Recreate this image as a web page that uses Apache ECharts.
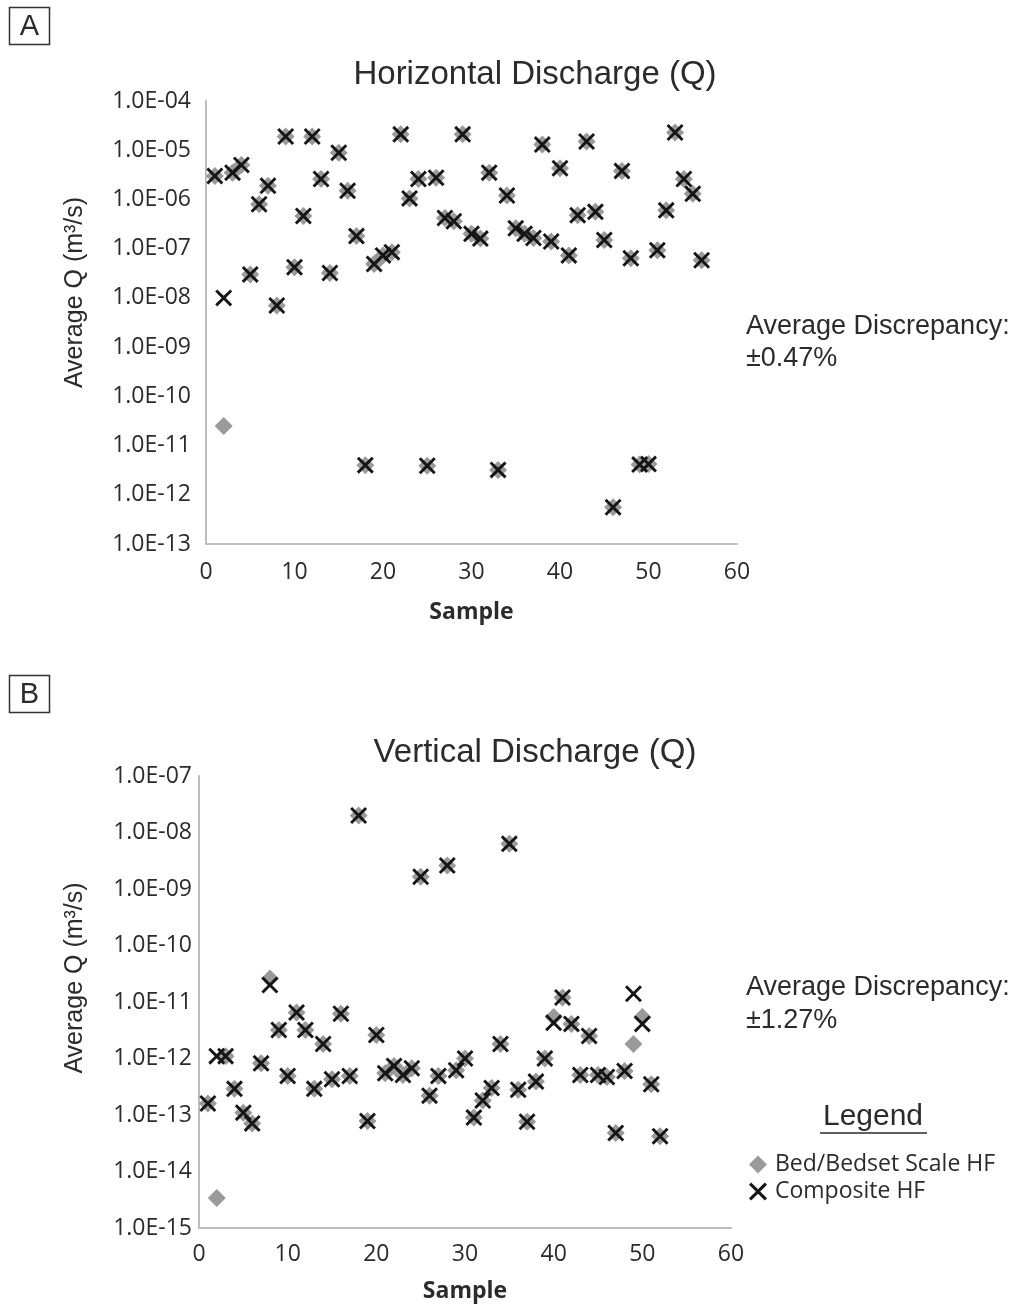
<!DOCTYPE html>
<html>
<head>
<meta charset="utf-8">
<title>Horizontal and Vertical Discharge</title>
<script src="https://cdn.jsdelivr.net/npm/echarts@6/dist/echarts.min.js"></script>
<style>
  html, body { margin: 0; padding: 0; background: #fff; }
  #chart { width: 1016px; height: 1308px; }
</style>
</head>
<body>
<div id="chart"></div>
<script>
// A: horizontal discharge, samples 1-56
const samplesA = [1, 2, 3, 4, 5, 6, 7, 8, 9, 10, 11, 12, 13, 14, 15, 16, 17, 18, 19, 20,
  21, 22, 23, 24, 25, 26, 27, 28, 29, 30, 31, 32, 33, 34, 35, 36, 37, 38, 39, 40,
  41, 42, 43, 44, 45, 46, 47, 48, 49, 50, 51, 52, 53, 54, 55, 56]
const bedA = [3.0e-6, 2.5e-11, 3.5e-6, 5.0e-6, 3.0e-8, 8.0e-7, 1.9e-6, 7.0e-9, 1.9e-5, 4.2e-8,
  4.6e-7, 1.9e-5, 2.6e-6, 3.2e-8, 8.9e-6, 1.5e-6, 1.8e-7, 4.0e-12, 4.9e-8, 7.3e-8,
  8.5e-8, 2.1e-5, 1.05e-6, 2.6e-6, 3.9e-12, 2.75e-6, 4.2e-7, 3.6e-7, 2.1e-5, 2.0e-7,
  1.6e-7, 3.5e-6, 3.2e-12, 1.2e-6, 2.6e-7, 2.0e-7, 1.65e-7, 1.3e-5, 1.4e-7, 4.3e-6,
  7.3e-8, 4.8e-7, 1.5e-5, 5.6e-7, 1.5e-7, 5.6e-13, 3.8e-6, 6.4e-8, 4.1e-12, 4.2e-12,
  9.3e-8, 6.0e-7, 2.3e-5, 2.6e-6, 1.3e-6, 5.8e-8]
const compositeA = [3.0e-6, 1.0e-8, 3.5e-6, 5.0e-6, 3.0e-8, 8.0e-7, 1.9e-6, 7.0e-9, 1.9e-5, 4.2e-8,
  4.6e-7, 1.9e-5, 2.6e-6, 3.2e-8, 8.9e-6, 1.5e-6, 1.8e-7, 4.0e-12, 4.9e-8, 7.3e-8,
  8.5e-8, 2.1e-5, 1.05e-6, 2.6e-6, 3.9e-12, 2.75e-6, 4.2e-7, 3.6e-7, 2.1e-5, 2.0e-7,
  1.6e-7, 3.5e-6, 3.2e-12, 1.2e-6, 2.6e-7, 2.0e-7, 1.65e-7, 1.3e-5, 1.4e-7, 4.3e-6,
  7.3e-8, 4.8e-7, 1.5e-5, 5.6e-7, 1.5e-7, 5.6e-13, 3.8e-6, 6.4e-8, 4.1e-12, 4.2e-12,
  9.3e-8, 6.0e-7, 2.3e-5, 2.6e-6, 1.3e-6, 5.8e-8]

// B: vertical discharge, samples 1-52
const samplesB = [1, 2, 3, 4, 5, 6, 7, 8, 9, 10, 11, 12, 13, 14, 15, 16, 17, 18, 19, 20,
  21, 22, 23, 24, 25, 26, 27, 28, 29, 30, 31, 32, 33, 34, 35, 36, 37, 38, 39, 40,
  41, 42, 43, 44, 45, 46, 47, 48, 49, 50, 51, 52]
const bedB = [1.6e-13, 3.4e-15, 1.1e-12, 2.9e-13, 1.1e-13, 7.1e-14, 8.2e-13, 2.6e-11, 3.2e-12, 4.9e-13,
  6.5e-12, 3.2e-12, 2.9e-13, 1.8e-12, 4.3e-13, 6.2e-12, 4.9e-13, 2.0e-8, 7.8e-14, 2.6e-12,
  5.5e-13, 7.4e-13, 5.1e-13, 6.7e-13, 1.65e-9, 2.2e-13, 4.9e-13, 2.6e-9, 6.2e-13, 1.0e-12,
  9.0e-14, 1.8e-13, 3.0e-13, 1.8e-12, 6.3e-9, 2.8e-13, 7.6e-14, 3.9e-13, 1.0e-12, 5.4e-12,
  1.2e-11, 4.1e-12, 5.1e-13, 2.5e-12, 5.1e-13, 4.7e-13, 4.8e-14, 6.0e-13, 1.8e-12, 5.4e-12,
  3.5e-13, 4.2e-14]
const compositeB = [1.6e-13, 1.1e-12, 1.1e-12, 2.9e-13, 1.1e-13, 7.1e-14, 8.2e-13, 2.0e-11, 3.2e-12, 4.9e-13,
  6.5e-12, 3.2e-12, 2.9e-13, 1.8e-12, 4.3e-13, 6.2e-12, 4.9e-13, 2.0e-8, 7.8e-14, 2.6e-12,
  5.5e-13, 7.4e-13, 5.1e-13, 6.7e-13, 1.65e-9, 2.2e-13, 4.9e-13, 2.6e-9, 6.2e-13, 1.0e-12,
  9.0e-14, 1.8e-13, 3.0e-13, 1.8e-12, 6.3e-9, 2.8e-13, 7.6e-14, 3.9e-13, 1.0e-12, 4.3e-12,
  1.2e-11, 4.1e-12, 5.1e-13, 2.5e-12, 5.1e-13, 4.7e-13, 4.8e-14, 6.0e-13, 1.4e-11, 4.1e-12,
  3.5e-13, 4.2e-14]

const seriesNames = ['Bed/Bedset Scale HF', 'Composite HF']
const discrepancyA = '±0.47%'
const discrepancyB = '±1.27%'

const TEXT = '#2b2b2b'
const AXIS_GRAY = '#bdbdbd'
const DIAMOND_GRAY = '#9a9a9a'
// filled X shape
const CROSS = 'path://M0,1.2L1.2,0L5,3.8L8.8,0L10,1.2L6.2,5L10,8.8L8.8,10L5,6.2L1.2,10L0,8.8L3.8,5Z'

// 1.0E-04 style labels
function sciLabel(v) {
  const e = Math.round(Math.log10(v))
  return '1.0E' + (e < 0 ? '-' : '+') + String(Math.abs(e)).padStart(2, '0')
}

function pairs(xs, ys) {
  return ys.map((v, i) => [xs[i], v])
}

function xAxisFor(gridIndex, labelMargin, nameGap) {
  return {
    type: 'value',
    gridIndex,
    min: 0,
    max: 60,
    interval: 10,
    name: 'Sample',
    nameLocation: 'middle',
    nameGap,
    nameTextStyle: { fontFamily: 'Open Sans', fontWeight: 'bold', fontSize: 23, color: TEXT },
    axisLine: { show: true, onZero: false, lineStyle: { color: AXIS_GRAY, width: 2 } },
    axisTick: { show: false },
    splitLine: { show: false },
    axisLabel: { fontFamily: 'Open Sans', fontSize: 23, color: TEXT, margin: labelMargin },
  }
}

function yAxisFor(gridIndex, min, max, labelMargin, nameGap, namePad) {
  return {
    type: 'log',
    logBase: 10,
    gridIndex,
    min,
    max,
    name: 'Average Q (m³/s)',
    nameLocation: 'middle',
    nameGap,
    nameTextStyle: { fontFamily: 'Liberation Sans', fontSize: 25, color: TEXT, padding: [0, 0, 0, namePad] },
    axisLine: { show: true, lineStyle: { color: AXIS_GRAY, width: 2 } },
    axisTick: { show: false },
    splitLine: { show: false },
    minorTick: { show: false },
    minorSplitLine: { show: false },
    axisLabel: { fontFamily: 'Open Sans', fontSize: 23, color: TEXT, margin: labelMargin, formatter: sciLabel },
  }
}

function bedSeries(idx, xs, ys) {
  return {
    name: seriesNames[0],
    type: 'scatter',
    xAxisIndex: idx,
    yAxisIndex: idx,
    symbol: 'diamond',
    symbolSize: 18,
    itemStyle: { color: DIAMOND_GRAY, opacity: 1 },
    data: pairs(xs, ys),
  }
}

function compositeSeries(idx, xs, ys) {
  return {
    name: seriesNames[1],
    type: 'scatter',
    xAxisIndex: idx,
    yAxisIndex: idx,
    symbol: CROSS,
    symbolSize: 17,
    itemStyle: { color: '#151515', opacity: 1 },
    data: pairs(xs, ys),
  }
}

function label(text, x, y, size, opts) {
  return {
    type: 'text',
    x,
    y,
    silent: true,
    style: Object.assign({
      text,
      fill: TEXT,
      fontFamily: 'Liberation Sans',
      fontSize: size,
      align: 'left',
      verticalAlign: 'middle',
    }, opts || {}),
  }
}

const chart = echarts.init(document.getElementById('chart'), null, { renderer: 'canvas' })

const option = {
  backgroundColor: '#ffffff',
  animation: false,
  grid: [
    { left: 206, top: 101, width: 531, height: 443, outerBoundsMode: 'none', containLabel: false },
    { left: 199, top: 776, width: 532, height: 452, outerBoundsMode: 'none', containLabel: false },
  ],
  xAxis: [xAxisFor(0, 17, 57), xAxisFor(1, 15, 52)],
  yAxis: [
    yAxisFor(0, 1e-13, 1e-4, 15, 118, 60),
    yAxisFor(1, 1e-15, 1e-7, 7, 111, 48),
  ],
  legend: {
    data: seriesNames,
    orient: 'vertical',
    left: 744,
    top: 1148,
    itemWidth: 18,
    itemHeight: 18,
    itemGap: 4,
    selectedMode: false,
    textStyle: { fontFamily: 'Open Sans', fontSize: 23, color: TEXT, padding: [0, 0, 0, 3] },
  },
  series: [
    bedSeries(0, samplesA, bedA),
    compositeSeries(0, samplesA, compositeA),
    bedSeries(1, samplesB, bedB),
    compositeSeries(1, samplesB, compositeB),
  ],
  graphic: [
    // panel letters
    { type: 'rect', shape: { x: 9.5, y: 7.5, width: 40, height: 37 }, style: { fill: 'none', stroke: '#333', lineWidth: 1.5 }, silent: true },
    label('A', 29.5, 27, 29, { align: 'center' }),
    { type: 'rect', shape: { x: 9.5, y: 675.5, width: 40, height: 37 }, style: { fill: 'none', stroke: '#333', lineWidth: 1.5 }, silent: true },
    label('B', 29.5, 695, 29, { align: 'center' }),
    // titles
    label('Horizontal Discharge (Q)', 535, 75, 33, { align: 'center' }),
    label('Vertical Discharge (Q)', 535, 753, 33, { align: 'center' }),
    // discrepancy notes
    label('Average Discrepancy:', 746, 327, 27),
    label(discrepancyA, 746, 359, 27),
    label('Average Discrepancy:', 746, 988, 27),
    label(discrepancyB, 746, 1021, 27),
    // legend heading
    label('Legend', 873, 1117, 30, { align: 'center' }),
    { type: 'line', shape: { x1: 820, y1: 1133, x2: 927, y2: 1133 }, style: { stroke: TEXT, lineWidth: 1.5 }, silent: true },
  ],
}

chart.setOption(option)
window.addEventListener('resize', () => chart.resize())
</script>
</body>
</html>
